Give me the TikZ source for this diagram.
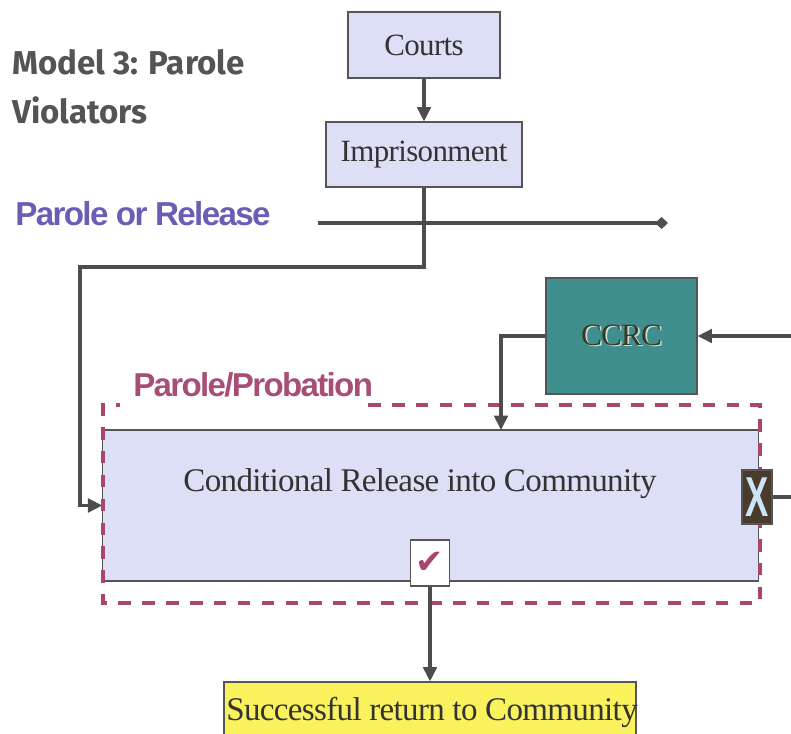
\documentclass[tikz,border=0pt]{standalone}
\usepackage{fontspec}
\usepackage{graphicx}
\usetikzlibrary{arrows.meta, calc}
\setmainfont{Liberation Serif}[LetterSpace=-2]
\newfontfamily\headfont{Liberation Sans}[LetterSpace=-5]
\newfontfamily\notefont{Fira Sans}
\newfontfamily\symfont{DejaVu Sans}
\definecolor{inkline}{HTML}{4D4D4D}
\definecolor{inkedge}{HTML}{555555}
\definecolor{inkgray}{HTML}{545454}
\definecolor{lavender}{HTML}{DCDFF5}
\definecolor{tealbox}{HTML}{3E8F8D}
\definecolor{ccrcink}{HTML}{3A3A22}
\definecolor{ccrcshade}{HTML}{C9DCDC}
\definecolor{crimson}{HTML}{A8466E}
\definecolor{probink}{HTML}{A84E76}
\definecolor{releaseink}{HTML}{6A5DB5}
\definecolor{sunbox}{HTML}{F9F25C}
\definecolor{xbrown}{HTML}{4A3C2C}
\definecolor{xblue}{HTML}{CDE3F8}
\newcommand{\flowbox}[6]{%
  \node[draw=inkedge, line width=0.8pt, fill=#5, inner sep=0pt,
        minimum width=#3, minimum height=#4, text=black!80] (#1) at (#2) {#6};}

\begin{document}
\begin{tikzpicture}[x=0.025cm, y=-0.025cm,
    flow/.style={draw=inkline, line width=2.3pt, -{Triangle[length=3.6mm, width=3.4mm]}},
    plain/.style={draw=inkline, line width=2.3pt}]
      \useasboundingbox (0,0) rectangle (791,733);
      % headings
      \node[anchor=west, align=left, text=inkgray, inner sep=0pt,
            font=\notefont\bfseries\fontsize{23.5}{35}\selectfont] (title) at (12,87)
            {Model 3: Parole\\Violators};
      \node[anchor=west, text=releaseink, inner sep=0pt,
            font=\headfont\bfseries\fontsize{23.6}{26}\selectfont] (relabel) at (15,214)
            {Parole or Release};
      \node[anchor=west, text=probink, inner sep=0pt,
            font=\headfont\bfseries\fontsize{23.5}{26}\selectfont] (problabel) at (133,385)
            {Parole/Probation};
      % boxes
      \flowbox{courts}{424,45}{3.8cm}{1.65cm}{lavender}{\fontsize{22}{24}\selectfont Courts}
      \flowbox{prison}{424,154.5}{4.9cm}{1.625cm}{lavender}{\fontsize{22}{24}\selectfont Imprisonment}
      \flowbox{ccrc}{621.5,336}{3.775cm}{2.9cm}{tealbox}{\fontsize{22}{24}\selectfont
        \makebox[0pt][l]{\hspace{1.2pt}\raisebox{-1.2pt}{\textcolor{ccrcshade}{CCRC}}}\textcolor{ccrcink}{CCRC}}
      \flowbox{release}{430.5,505.5}{16.375cm}{3.775cm}{lavender}{}
      \node[text=black!80, font=\fontsize{23.5}{26}\selectfont] (reltext) at (420,484)
        {Conditional Release into Community};
      \flowbox{success}{430,714}{10.3cm}{1.6cm}{sunbox}{}
      \node[text=black!80, font=\fontsize{23.5}{26}\selectfont] (succtext) at (432,712)
        {Successful return to Community};
      % parole/probation period frame
      \draw[crimson, line width=2.2pt, dash pattern=on 9pt off 8pt]
        (368,405) -- (760,405) -- (760,603) -- (103,603) -- (103,405) -- (120,405);
      % outcome markers
      \node[draw=inkedge, line width=0.8pt, fill=white, minimum width=0.975cm,
            minimum height=1.15cm, inner sep=0pt, text=crimson,
            font=\symfont\fontsize{24}{24}\selectfont] (check) at (430,563) {✔};
      \node[draw=inkedge, line width=0.8pt, fill=xbrown, minimum width=0.75cm,
            minimum height=1.35cm, inner sep=0pt, text=xblue,
            font=\headfont\bfseries\fontsize{40}{40}\selectfont] (xbox) at (757,497)
            {\scalebox{0.62}[1]{X}};
      % free ends
      \coordinate (relstart) at (318,223);
      \coordinate (relend) at (668,223);
      \coordinate (turn) at (80,267);
      \coordinate (ccrcin) at (791,336);
      \coordinate (drop) at (501,430);
      \coordinate (xout) at (791,497);
      % connectors
      \draw[flow] (courts) -- (prison);
      \draw[plain, -{Diamond[length=3.2mm, width=3mm]}] (relstart) -- (relend);
      \draw[flow] (prison.south) |- (turn) |- (release.west);
      \draw[flow] (ccrcin) -- (ccrc.east);
      \draw[flow] (ccrc.west) -| (drop);
      \draw[plain] (xbox.east) -- (xout);
      \draw[flow] (check.south) -- (check.south |- success.north);
    \end{tikzpicture}
\end{document}
